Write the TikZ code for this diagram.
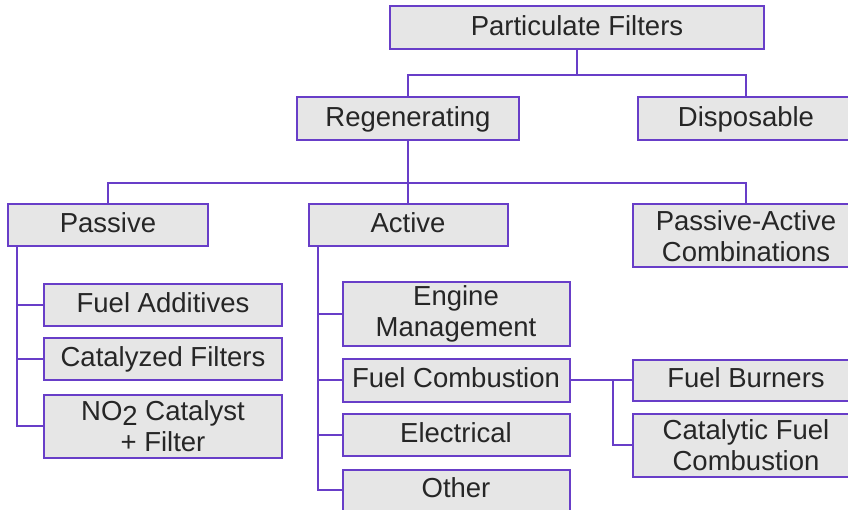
\documentclass[tikz,border=0pt]{standalone}
\usepackage{fontspec}
\setmainfont{Liberation Sans}
\definecolor{edge}{RGB}{104,62,200}
\definecolor{boxfill}{RGB}{230,230,230}
\definecolor{txt}{RGB}{38,38,38}
\begin{document}
\begin{tikzpicture}[x=1bp,y=-1bp,
  box/.style={draw=edge, line width=2bp, fill=boxfill, text=txt, inner sep=0pt,
    font=\fontsize{27.5bp}{31bp}\selectfont, align=center},
  one/.style={text height=19.5bp, text depth=5bp},
  conn/.style={draw=edge, line width=2bp}]
\clip (0,0) rectangle (848,510);
\fill[white] (0,0) rectangle (848,510);
% level 0-1
\node[box,one,minimum width=374bp,minimum height=43bp] (pf) at (577,28) {Particulate Filters};
\node[box,one,minimum width=222bp,minimum height=43bp] (reg) at (408,119) {Regenerating};
\node[box,one,minimum width=216bp,minimum height=43bp] (disp) at (746,119) {Disposable};
% level 2
\node[box,one,minimum width=199bp,minimum height=42bp] (pas) at (108,225) {Passive};
\node[box,one,minimum width=199bp,minimum height=42bp] (act) at (408,225) {Active};
\node[box,minimum width=226bp,minimum height=63bp] (pac) at (746,236) {Passive-Active\\Combinations};
% passive children
\node[box,one,minimum width=238bp,minimum height=41bp] (fa) at (163,305) {Fuel Additives};
\node[box,one,minimum width=238bp,minimum height=42bp] (cf) at (163,359) {Catalyzed Filters};
\node[box,minimum width=238bp,minimum height=63bp] (no2) at (163,426) {NO\raisebox{-5bp}{2} Catalyst\\+ Filter};
% active children
\node[box,minimum width=227bp,minimum height=63bp] (em) at (456,314) {Engine\\Management};
\node[box,one,minimum width=227bp,minimum height=43bp] (fc) at (456,380) {Fuel Combustion};
\node[box,one,minimum width=227bp,minimum height=42bp] (el) at (456,435) {Electrical};
\node[box,one,minimum width=227bp,minimum height=41bp] (ot) at (456,490) {Other};
% fuel combustion children
\node[box,one,minimum width=226bp,minimum height=41bp] (fb) at (746,380) {Fuel Burners};
\node[box,minimum width=226bp,minimum height=63bp] (cfc) at (746,445) {Catalytic Fuel\\Combustion};
% connectors
\draw[conn] (pf.south) -- ++(0,25) coordinate (j1);
\draw[conn] (j1) -| (reg.north);
\draw[conn] (j1) -| (disp.north);
\draw[conn] (reg.south) -- ++(0,42) coordinate (j2);
\draw[conn] (j2) -| (pas.north);
\draw[conn] (j2) -| (act.north);
\draw[conn] (j2) -| (pac.north);
\coordinate (pv) at ([xshift=10bp]pas.south west);
\draw[conn] (pv) |- (no2.west);
\draw[conn] (fa.west) -- (fa.west -| pv);
\draw[conn] (cf.west) -- (cf.west -| pv);
\coordinate (av) at ([xshift=10bp]act.south west);
\draw[conn] (av) |- (ot.west);
\draw[conn] (em.west) -- (em.west -| av);
\draw[conn] (fc.west) -- (fc.west -| av);
\draw[conn] (el.west) -- (el.west -| av);
\draw[conn] (fc.east) -- (fb.west);
\coordinate (fv) at ([xshift=42bp]fc.east);
\draw[conn] (fv) |- (cfc.west);
\end{tikzpicture}
\end{document}
